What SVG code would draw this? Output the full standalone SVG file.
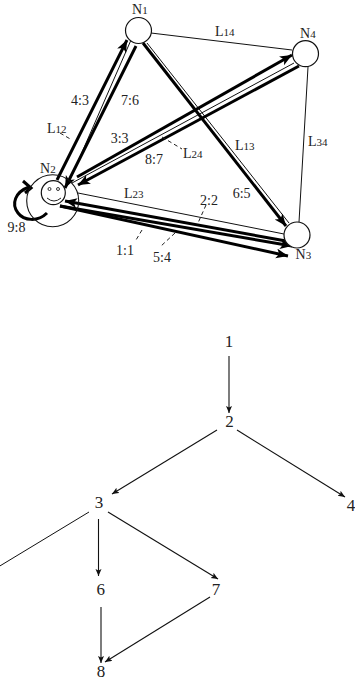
<svg xmlns="http://www.w3.org/2000/svg" width="355" height="681" viewBox="0 0 355 681">
<style>
text{font-family:"Liberation Serif","Times New Roman",serif;fill:#222}
.l{font-size:14px}
.t{font-size:17px;text-anchor:middle}
tspan{font-size:11px}
.c{fill:#fff;stroke:#111;stroke-width:1.2}
.thin{stroke:#111;stroke-width:1;fill:none}
.thick{stroke:#000;stroke-width:3;fill:none}
.thka{stroke:#000;stroke-width:3;fill:none;marker-end:url(#big)}
.dash{stroke:#222;stroke-width:1;stroke-dasharray:4 3;fill:none}
.tree{stroke:#111;stroke-width:1.1;fill:none;marker-end:url(#small)}
</style>
<defs>
<marker id="big" markerUnits="userSpaceOnUse" markerWidth="14" markerHeight="12" refX="12" refY="5" orient="auto"><path d="M0 0L12 5L0 10L3 5Z" fill="#000"/></marker>
<marker id="small" markerUnits="userSpaceOnUse" markerWidth="8" markerHeight="8" refX="7" refY="3" orient="auto"><path d="M0 0L7 3L0 6L1.500 3Z" fill="#111"/></marker>
</defs>
<g id="connectors">
<path class="thin" d="M151 33L292 50M131 40L69 182M147 43L289 223M294 63L72 183M78 193L284 234M308 67L299 222"/>
<path class="thka" d="M57 180L127 40"/>
<path class="thka" d="M136 46L65 188"/>
<path class="thka" d="M77 177L292 55"/>
<path class="thka" d="M299 66L78 185"/>
<path class="thka" d="M143 43L286 226"/>
<path class="thka" d="M286 241L65 201"/>
<path class="thka" d="M60 206L292 246"/>
<path class="thka" d="M60 206L288 256"/>
<path class="thick" d="M47 213C38 222 24 221 18 213C11 204 15 192 29 187"/>
<path class="thick" d="M23 181L31 188L25 193"/>
<path class="dash" d="M60 133L72 140M162 137L182 149M142 230L136 240M175 233L160 247M206 205L198 223"/>
<path class="tree" d="M229 356L229 413"/>
<path class="tree" d="M217 430L112 494"/>
<path class="tree" d="M237 430L345 497"/>
<path class="thin" d="M89 512L-20 578"/>
<path class="tree" d="M98.500 519L98.500 576"/>
<path class="tree" d="M108 512L218 579"/>
<path class="tree" d="M101 607L101 663"/>
<path class="tree" d="M210 597L105 662"/>
</g>
<g id="n1"><circle class="c" cx="138.500" cy="30.500" r="13"/><text class="l" x="132" y="14">N<tspan>1</tspan></text></g>
<g id="n4"><circle class="c" cx="305.500" cy="53.700" r="13"/><text class="l" x="300" y="38">N<tspan>4</tspan></text></g>
<g id="n3"><circle class="c" cx="297" cy="235" r="13"/><text class="l" x="295.500" y="259">N<tspan>3</tspan></text></g>
<g id="n2"><circle cx="52.700" cy="200.700" r="26" fill="none" stroke="#111" stroke-width="1.100"/><circle class="c" cx="53.300" cy="192.700" r="12"/><circle cx="49.500" cy="189" r="1.500" fill="none" stroke="#333"/><circle cx="58" cy="189" r="1.500" fill="none" stroke="#333"/><path d="M47 198Q54 204 61 198" fill="none" stroke="#222" stroke-width="1"/><text class="l" x="40" y="173">N<tspan>2</tspan></text></g>
<g id="labels">
<text class="l" x="215" y="36">L<tspan>14</tspan></text>
<text class="l" x="47" y="133">L<tspan>12</tspan></text>
<text class="l" x="235" y="150">L<tspan>13</tspan></text>
<text class="l" x="308" y="146">L<tspan>34</tspan></text>
<text class="l" x="183" y="158">L<tspan>24</tspan></text>
<text class="l" x="124" y="198">L<tspan>23</tspan></text>
<text class="l" x="71" y="105">4:3</text>
<text class="l" x="121" y="105">7:6</text>
<text class="l" x="110.700" y="143">3:3</text>
<text class="l" x="145" y="164">8:7</text>
<text class="l" x="232.700" y="198">6:5</text>
<text class="l" x="200" y="205">2:2</text>
<text class="l" x="116" y="255">1:1</text>
<text class="l" x="153" y="262">5:4</text>
<text class="l" x="7.500" y="232">9:8</text>
</g>
<g id="t1"><text class="t" x="229" y="347">1</text></g>
<g id="t2"><text class="t" x="229.500" y="427">2</text></g>
<g id="t3"><text class="t" x="99" y="508">3</text></g>
<g id="t4"><text class="t" x="351" y="511">4</text></g>
<g id="t6"><text class="t" x="100.700" y="595">6</text></g>
<g id="t7"><text class="t" x="216" y="595">7</text></g>
<g id="t8"><text class="t" x="101" y="677">8</text></g>
</svg>
